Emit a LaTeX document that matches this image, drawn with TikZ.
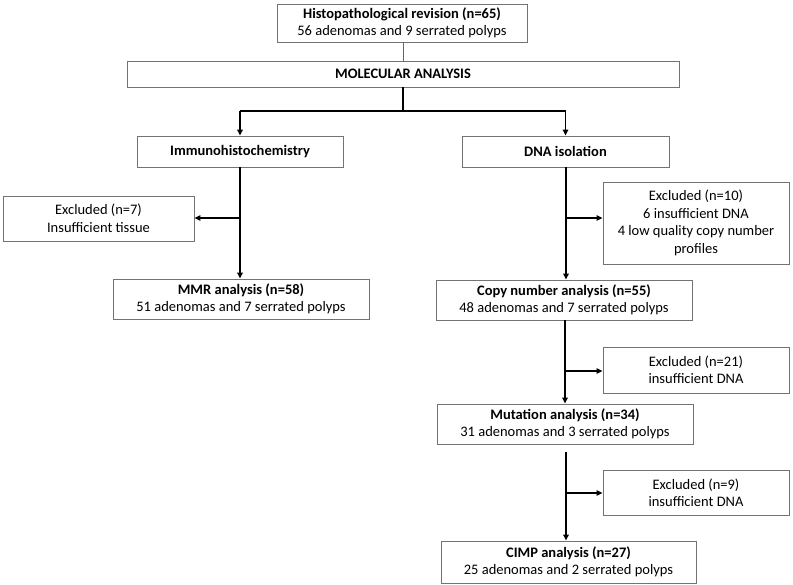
\documentclass[tikz,border=0pt]{standalone}
\usepackage{fontspec}
\setmainfont{Carlito}
\usetikzlibrary{arrows.meta}
\begin{document}
\begin{tikzpicture}[x=1pt,y=-1pt,
  box/.style={draw=black!55,line width=0.9pt,fill=white,align=center,inner sep=0pt,
    font=\fontsize{14.5}{17.5}\selectfont},
  thin/.style={draw=black!60,line width=0.9pt},
  conn/.style={draw=black,line width=1.6pt},
  arr/.style={draw=black,line width=1.2pt,-{Triangle[length=6pt,width=5.5pt]}},
  varr/.style={draw=black,line width=1.6pt,-{Triangle[length=6pt,width=5.5pt]}}]
\useasboundingbox (0,0) rectangle (793,585);
\node[box,minimum width=250pt,minimum height=38pt] (h1) at (402,23)
  {\textbf{Histopathological revision (n=65)}\\56 adenomas and 9 serrated polyps};
\node[box,minimum width=552pt,minimum height=26pt] (ma) at (403,74)
  {\textbf{MOLECULAR ANALYSIS}};
\node[box,minimum width=206pt,minimum height=31pt] (imm) at (240,151.5)
  {\textbf{Immunohistochemistry}};
\node[box,minimum width=207pt,minimum height=31pt] (dna) at (565.5,151.5)
  {\textbf{DNA isolation}};
\node[box,minimum width=191pt,minimum height=45pt] (ex7) at (98.5,218.5)
  {Excluded (n=7)\\Insufficient tissue};
\node[box,minimum width=256pt,minimum height=40pt] (mmr) at (241,299)
  {\textbf{MMR analysis (n=58)}\\51 adenomas and 7 serrated polyps};
\node[box,minimum width=186pt,minimum height=82pt] (ex10) at (696,223)
  {Excluded (n=10)\\6 insufficient DNA\\4 low quality copy number\\profiles};
\node[box,minimum width=256pt,minimum height=40pt] (cn) at (564,300)
  {\textbf{Copy number analysis (n=55)}\\48 adenomas and 7 serrated polyps};
\node[box,minimum width=186pt,minimum height=46pt] (ex21) at (696,370)
  {Excluded (n=21)\\insufficient DNA};
\node[box,minimum width=256pt,minimum height=40pt] (mut) at (565,424)
  {\textbf{Mutation analysis (n=34)}\\31 adenomas and 3 serrated polyps};
\node[box,minimum width=186pt,minimum height=45pt] (ex9) at (696,492.5)
  {Excluded (n=9)\\insufficient DNA};
\node[box,minimum width=255pt,minimum height=42pt] (cimp) at (568.5,562)
  {\textbf{CIMP analysis (n=27)}\\25 adenomas and 2 serrated polyps};
% coordinates
\coordinate (split) at (403,111);
\coordinate (bi) at (240,218);
\coordinate (bd) at (566,218);
\coordinate (bc) at (565,371);
\coordinate (ms) at (566,452);
\coordinate (bm) at (566,493);
% connectors
\draw[thin] (h1.south -| ma.north) -- (ma.north);
\draw[conn] (ma.south) -- (split);
\draw[conn] (split) -- (split -| imm.north);
\draw[conn] (split) -- (split -| dna.north);
\draw[varr] (split -| imm.north) -- (imm.north);
\draw[varr] (split -| dna.north) -- (dna.north);
\draw[varr] (imm.south) -- (mmr.north -| imm.south);
\draw[arr] (bi) -- (ex7.east |- bi);
\draw[varr] (dna.south -| bd) -- (cn.north -| bd);
\draw[arr] (bd) -- (ex10.west |- bd);
\draw[varr] (cn.south -| bc) -- (mut.north -| bc);
\draw[arr] (bc) -- (ex21.west |- bc);
\draw[varr] (ms) -- (cimp.north -| ms);
\draw[arr] (bm) -- (ex9.west |- bm);
\end{tikzpicture}
\end{document}
